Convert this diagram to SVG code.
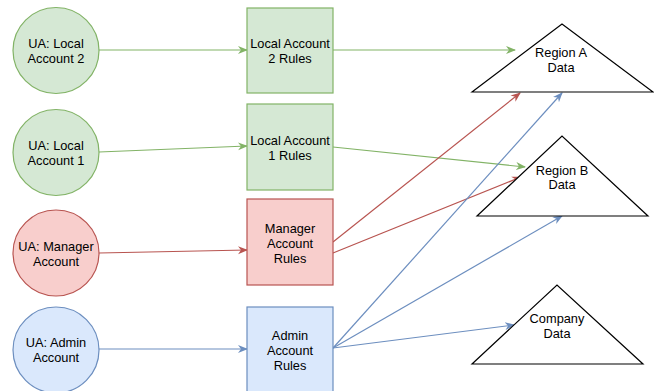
<svg xmlns="http://www.w3.org/2000/svg" width="654" height="391" viewBox="0 0 654 391">
<style>
text{font-family:"Liberation Sans",Arial,sans-serif;font-size:12.8px;fill:#000;text-anchor:middle}
.g{fill:#d5e8d4;stroke:#82b366;stroke-width:1.2}
.r{fill:#f8cecc;stroke:#b85450;stroke-width:1.2}
.b{fill:#dae8fc;stroke:#6c8ebf;stroke-width:1.2}
.t{fill:#fff;stroke:#000;stroke-width:1.2}
.eg{stroke:#82b366;fill:none;stroke-width:1.2;marker-end:url(#ag)}
.er{stroke:#b85450;fill:none;stroke-width:1.2;marker-end:url(#ar)}
.eb{stroke:#6c8ebf;fill:none;stroke-width:1.2;marker-end:url(#ab)}
</style>
<defs>
<marker id="ag" viewBox="0 0 10 10" refX="9" refY="5" markerWidth="10" markerHeight="10" markerUnits="userSpaceOnUse" orient="auto"><path d="M0,1 L10,5 L0,9 L3,5 z" fill="#82b366"/></marker>
<marker id="ar" viewBox="0 0 10 10" refX="9" refY="5" markerWidth="10" markerHeight="10" markerUnits="userSpaceOnUse" orient="auto"><path d="M0,1 L10,5 L0,9 L3,5 z" fill="#b85450"/></marker>
<marker id="ab" viewBox="0 0 10 10" refX="9" refY="5" markerWidth="10" markerHeight="10" markerUnits="userSpaceOnUse" orient="auto"><path d="M0,1 L10,5 L0,9 L3,5 z" fill="#6c8ebf"/></marker>
</defs>
<rect width="654" height="391" fill="#fff"/>
<g id="connectors">
<line class="eg" x1="99" y1="50" x2="247" y2="50"/>
<line class="eg" x1="99" y1="152" x2="247" y2="146"/>
<line class="er" x1="99" y1="253" x2="247" y2="250"/>
<line class="eb" x1="99" y1="349" x2="247" y2="349"/>
<line class="eg" x1="333" y1="50" x2="515" y2="50"/>
<line class="eg" x1="333" y1="147" x2="525" y2="167"/>
<line class="er" x1="333" y1="242" x2="520" y2="93"/>
<line class="er" x1="333" y1="253" x2="521" y2="177"/>
<line class="eb" x1="333" y1="348" x2="562" y2="93"/>
<line class="eb" x1="333" y1="348" x2="562" y2="216"/>
<line class="eb" x1="333" y1="348" x2="514" y2="325"/>
</g>
<g id="ua-local2"><circle class="g" cx="56" cy="50.5" r="43"/><text x="56" y="48">UA: Local</text><text x="56" y="63">Account 2</text></g>
<g id="ua-local1"><circle class="g" cx="56" cy="152.5" r="43"/><text x="56" y="150">UA: Local</text><text x="56" y="165">Account 1</text></g>
<g id="ua-manager"><circle class="r" cx="56" cy="253" r="43"/><text x="56" y="251">UA: Manager</text><text x="56" y="266">Account</text></g>
<g id="ua-admin"><circle class="b" cx="56" cy="350" r="43"/><text x="56" y="347">UA: Admin</text><text x="56" y="362">Account</text></g>
<g id="rules-local2"><rect class="g" x="247" y="8" width="86" height="85"/><text x="290" y="48">Local Account</text><text x="290" y="63">2 Rules</text></g>
<g id="rules-local1"><rect class="g" x="247" y="104" width="86" height="86"/><text x="290" y="145">Local Account</text><text x="290" y="160">1 Rules</text></g>
<g id="rules-manager"><rect class="r" x="247" y="199" width="86" height="86"/><text x="290" y="233">Manager</text><text x="290" y="248">Account</text><text x="290" y="263">Rules</text></g>
<g id="rules-admin"><rect class="b" x="247" y="307" width="86" height="86"/><text x="290" y="340">Admin</text><text x="290" y="355">Account</text><text x="290" y="370">Rules</text></g>
<g id="region-a"><polygon class="t" points="472,92 562,24 653,92"/><text x="561" y="57">Region A</text><text x="561" y="72">Data</text></g>
<g id="region-b"><polygon class="t" points="477,216 562,136 648,216"/><text x="562" y="175">Region B</text><text x="562" y="189">Data</text></g>
<g id="company"><polygon class="t" points="472,364 557,285 643,364"/><text x="557" y="323">Company</text><text x="557" y="338">Data</text></g>
</svg>
